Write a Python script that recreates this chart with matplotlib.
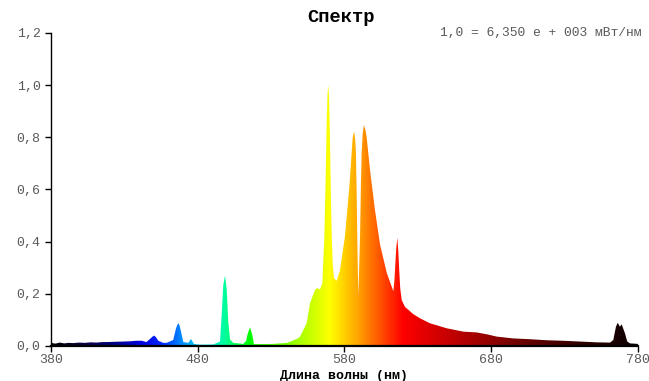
import numpy as np
import matplotlib
matplotlib.use("Agg")
import matplotlib.pyplot as plt
from matplotlib.colors import LinearSegmentedColormap
from matplotlib.patches import Polygon
from matplotlib.ticker import FuncFormatter

# -------------------- данные спектра --------------------
wavelength = [380, 383, 386, 389, 392, 395, 399, 403, 407, 411, 415, 418, 423, 429, 434,
              438, 442, 445, 447.5, 449, 450.2, 451.5, 453.1, 456.5, 458.8, 463.3, 465.2,
              466.2, 467, 467.8, 468.6, 470.2, 473.6, 475.4, 477.4, 481.5, 490.6, 495.2,
              496.3, 497.4, 498.6, 499.7, 500.8, 502, 504.2, 511, 513, 513.8, 515.6, 517.2,
              518.3, 531.5, 540.6, 542.9, 548.5, 549.7, 554.2, 556.5, 559.9, 561.5, 563.3,
              564.9, 566.3, 567.2, 567.9, 568.5, 569, 569.5, 570.1, 570.7, 571.3, 572,
              572.8, 574.7, 576.9, 580.3, 583.3, 585.6, 586.2, 586.7, 587.3, 587.8, 588.3,
              588.7, 589.4, 590, 590.6, 591.2, 591.7, 592.5, 593.3, 594.2, 595.1, 597.4,
              600.8, 604.2, 608.8, 613.3, 614, 614.4, 615.2, 616, 616.6, 617.3, 618, 619,
              621.2, 626.9, 631.5, 638.3, 649.6, 661, 670, 676.9, 683.7, 695, 706.4,
              717.8, 729.1, 740.5, 751.9, 761, 763.2, 765, 766.2, 767.7, 768.9, 771.1,
              772.7, 774.6, 780]
intensity = [0.012, 0.009, 0.013, 0.010, 0.012, 0.011, 0.013, 0.012, 0.014, 0.013, 0.015,
             0.015, 0.016, 0.017, 0.018, 0.020, 0.020, 0.015, 0.027, 0.035, 0.040, 0.034,
             0.020, 0.012, 0.012, 0.023, 0.068, 0.082, 0.087, 0.075, 0.055, 0.015, 0.012,
             0.027, 0.008, 0.005, 0.006, 0.017, 0.120, 0.234, 0.270, 0.220, 0.093, 0.025,
             0.012, 0.008, 0.020, 0.042, 0.072, 0.042, 0.007, 0.008, 0.012, 0.016, 0.030,
             0.036, 0.087, 0.164, 0.215, 0.222, 0.217, 0.240, 0.420, 0.650, 0.867, 0.970,
             1.000, 0.950, 0.800, 0.580, 0.420, 0.310, 0.260, 0.250, 0.290, 0.420, 0.610,
             0.800, 0.815, 0.820, 0.790, 0.740, 0.580, 0.420, 0.190, 0.300, 0.420, 0.620,
             0.740, 0.820, 0.847, 0.830, 0.800, 0.675, 0.520, 0.390, 0.280, 0.210, 0.250,
             0.290, 0.370, 0.415, 0.370, 0.290, 0.220, 0.176, 0.150, 0.122, 0.106, 0.087,
             0.068, 0.055, 0.052, 0.045, 0.036, 0.029, 0.026, 0.022, 0.020, 0.017, 0.014,
             0.013, 0.023, 0.074, 0.089, 0.074, 0.083, 0.049, 0.017, 0.010, 0.008]

x_ticks = [380, 480, 580, 680, 780]
y_ticks = [0.0, 0.2, 0.4, 0.6, 0.8, 1.0, 1.2]

# цвета по длине волны (опорные точки градиента)
color_stops = [(380, "#000000"), (400, "#10003c"), (420, "#000078"), (440, "#0000dc"),
               (455, "#0028ff"), (470, "#0096ff"), (485, "#00f0f0"), (500, "#00ff8c"),
               (515, "#00ff00"), (545, "#96ff00"), (570, "#ffff00"), (590, "#ffa000"),
               (605, "#ff5000"), (620, "#ff0000"), (650, "#c80000"), (700, "#6e0000"),
               (740, "#320000"), (780, "#0a0000")]

plt.rcParams["font.family"] = ["Liberation Mono", "DejaVu Sans Mono"]

fig = plt.figure(figsize=(6.49, 3.81), dpi=100)
ax = fig.add_axes([0.0786, 0.0919, 0.9044, 0.8215])

# -------------------- заливка градиентом --------------------
cmap = LinearSegmentedColormap.from_list(
    "spectrum", [((w - 380) / 400, c) for w, c in color_stops])
grad = np.linspace(0, 1, 800).reshape(1, -1)
im = ax.imshow(grad, extent=[380, 780, 0, 1.2], aspect="auto", cmap=cmap,
               origin="lower", interpolation="bilinear", zorder=2)
verts = list(zip(wavelength, intensity)) + [(780, 0), (380, 0)]
poly = Polygon(verts, closed=True, facecolor="none", edgecolor="none")
ax.add_patch(poly)
im.set_clip_path(poly)

ax.set_xlim(380, 780)
ax.set_ylim(0, 1.2)

# -------------------- оси и подписи --------------------
for side in ("top", "right"):
    ax.spines[side].set_visible(False)
ax.spines["left"].set_linewidth(1.0)
ax.spines["bottom"].set_linewidth(1.6)
ax.spines["bottom"].set_zorder(5)

ax.set_xticks(x_ticks)
ax.set_yticks(y_ticks)
ax.yaxis.set_major_formatter(FuncFormatter(lambda v, p: f"{v:.1f}".replace(".", ",")))
ax.tick_params(axis="both", direction="out", length=4, width=1, colors="black",
               labelcolor="#5a5a5a", labelsize=9.5)
ax.tick_params(axis="x", pad=2)

ax.set_xlabel("Длина волны (нм)", fontsize=9.5, fontweight="bold", labelpad=3)
fig.text(0.525, 0.955, "Спектр", ha="center", va="center", fontsize=13.5,
         fontweight="bold")
fig.text(0.988, 0.913, "1,0 = 6,350 e + 003 мВт/нм", ha="right", va="center",
         fontsize=9.4, color="#5a5a5a")

fig.savefig("out.png", dpi=100)
